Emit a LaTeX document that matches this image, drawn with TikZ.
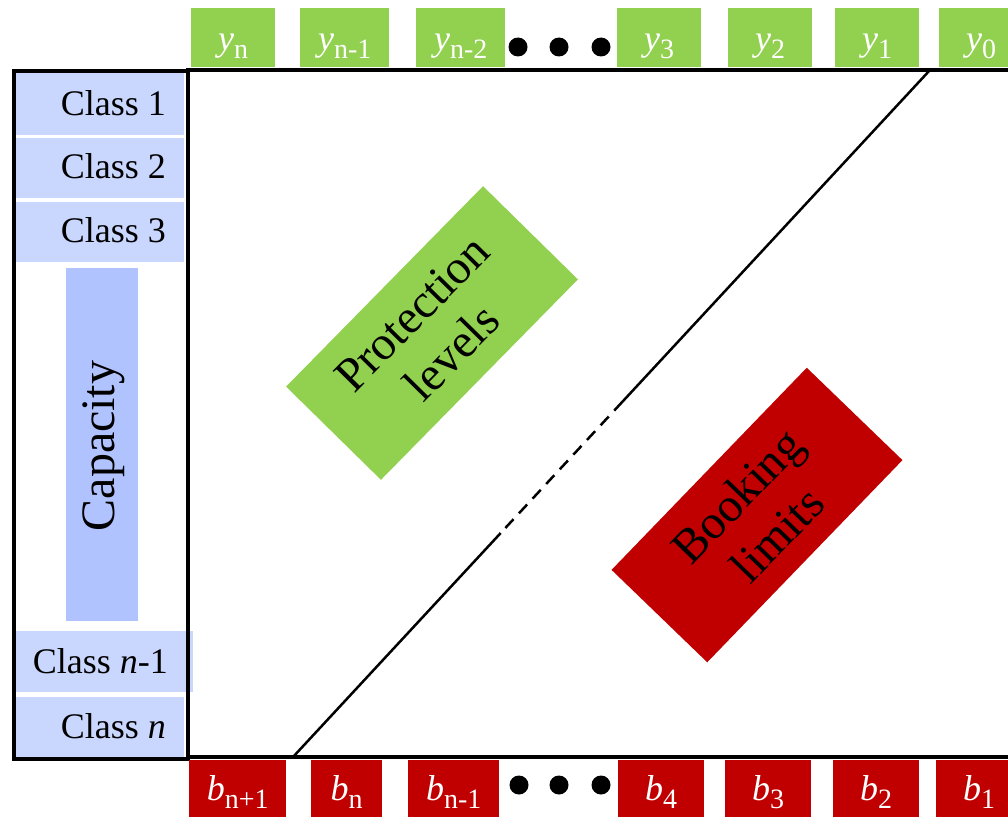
\documentclass[tikz,border=0pt]{standalone}
\usepackage{fontspec}
\setmainfont{Liberation Serif}
\usetikzlibrary{calc}

\definecolor{pgreen}{HTML}{92D050}
\definecolor{pred}{HTML}{C00000}
\definecolor{clsblue}{HTML}{C9D6FE}
\definecolor{capblue}{HTML}{B1C3FE}

% italic letter with an upright, lowered index
\newcommand\idxlabel[2]{\textit{#1}\raisebox{-0.24em}{\fontsize{28}{28}\selectfont #2}}

\tikzset{
  ybox/.style={fill=pgreen, text=white, inner sep=0pt, anchor=north west,
    text height=42pt, text depth=17pt, font=\fontsize{36}{40}\selectfont},
  bbox/.style={fill=pred, text=white, inner sep=0pt, anchor=north west,
    text height=40pt, text depth=22pt, font=\fontsize{36}{40}\selectfont},
  dotmark/.style={circle, fill=black, inner sep=0pt, minimum size=19pt},
  clsbox/.style={fill=clsblue, inner sep=0pt, anchor=north west},
  clslab/.style={inner sep=0pt, anchor=base east, font=\fontsize{36}{40}\selectfont},
  bigtext/.style={font=\fontsize{48}{56}\selectfont, align=center},
  tagbox/.style={bigtext, inner sep=0pt, minimum width=281pt, minimum height=133pt},
  frameline/.style={line width=3.5pt},
  diagline/.style={line width=2.5pt},
}

\begin{document}
\begin{tikzpicture}[x=1pt, y=-1pt]
\useasboundingbox (0,0) rectangle (1008,816);
\clip (0,0) rectangle (1008,816);

% left column: classes and capacity
\draw[line width=4pt] (14,71) rectangle (188,759);
\node[clsbox, minimum width=168pt, minimum height=62pt] (c1) at (16,73) {};
\node[clslab] (c1t) at (166,115) {Class 1};
\node[clsbox, minimum width=168pt, minimum height=60pt] (c2) at (16,138) {};
\node[clslab] (c2t) at (166,178) {Class 2};
\node[clsbox, minimum width=168pt, minimum height=60pt] (c3) at (16,202) {};
\node[clslab] (c3t) at (166,242) {Class 3};
\node[fill=capblue, inner sep=0pt, minimum width=72pt, minimum height=353pt] (cap) at (102,444.5) {};
\node[bigtext, rotate=90, inner sep=0pt] (capt) at (104,446) {Capacity};
\node[clsbox, minimum width=177pt, minimum height=61pt] (cn1) at (16,631) {};
\node[clslab] (cn1t) at (168,673) {Class \textit{n}-1};
\node[clsbox, minimum width=168pt, minimum height=60pt] (cn) at (16,697) {};
\node[clslab] (cnt) at (166,738) {Class \textit{n}};

% main frame
\draw[frameline] (1020,70) -- (188,70) -- (188,757) -- (1020,757);

% protection levels along the top
\node[ybox, minimum width=84pt] (yn)  at (191,8) {\idxlabel{y}{n}};
\node[ybox, minimum width=89pt] (yn1) at (300,8) {\idxlabel{y}{n-1}};
\node[ybox, minimum width=89pt] (yn2) at (416,8) {\idxlabel{y}{n-2}};
\node[dotmark] (td1) at (518,47) {};
\node[dotmark] (td2) at (559,47) {};
\node[dotmark] (td3) at (601,47) {};
\node[ybox, minimum width=84pt] (y3) at (617,8) {\idxlabel{y}{3}};
\node[ybox, minimum width=84pt] (y2) at (728,8) {\idxlabel{y}{2}};
\node[ybox, minimum width=84pt] (y1) at (835,8) {\idxlabel{y}{1}};
\node[ybox, minimum width=84pt] (y0) at (939,8) {\idxlabel{y}{0}};

% booking limits along the bottom
\node[bbox, minimum width=97pt] (bn1) at (189,760) {\idxlabel{b}{n+1}};
\node[bbox, minimum width=71pt] (bn)  at (311,760) {\idxlabel{b}{n}};
\node[bbox, minimum width=91pt] (bm1) at (408,760) {\idxlabel{b}{n-1}};
\node[dotmark] (bd1) at (519,785) {};
\node[dotmark] (bd2) at (559,785) {};
\node[dotmark] (bd3) at (601,785) {};
\node[bbox, minimum width=86pt] (b4) at (618,760) {\idxlabel{b}{4}};
\node[bbox, minimum width=86pt] (b3) at (725,760) {\idxlabel{b}{3}};
\node[bbox, minimum width=86pt] (b2) at (833,760) {\idxlabel{b}{2}};
\node[bbox, minimum width=86pt] (b1) at (936,760) {\idxlabel{b}{1}};

% diagonal split, dashed in the middle
\coordinate (dtop) at (930,70);
\coordinate (dbot) at (293,757);
\coordinate (dm1) at ($(dtop)!0.483!(dbot)$);
\coordinate (dm2) at ($(dtop)!0.674!(dbot)$);
\draw[diagline] (dtop) -- (dm1);
\draw[diagline, dash pattern=on 12pt off 8pt] (dm1) -- (dm2);
\draw[diagline] (dm2) -- (dbot);

% region tags
\node[tagbox, fill=pgreen, rotate=45.5] (prot) at (432,333) {Protection\\levels};
\node[tagbox, fill=pred, rotate=46] (book) at (757,515) {Booking\\limits};
\end{tikzpicture}
\end{document}
